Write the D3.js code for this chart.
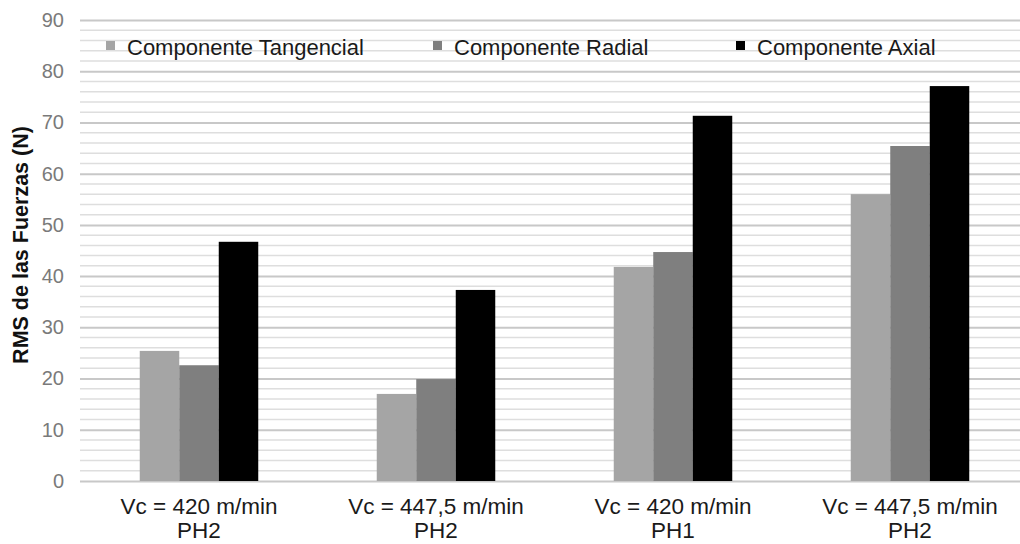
<!DOCTYPE html>
<html>
<head>
<meta charset="utf-8">
<script src="https://cdn.jsdelivr.net/npm/d3@7"></script>
<style>
  html, body { margin: 0; padding: 0; background: #fff; }
  svg { display: block; font-family: "Liberation Sans", Arial, sans-serif; }
</style>
</head>
<body>
<svg id="chart" width="1020" height="544"></svg>
<script>
const categories = [
  ["Vc = 420 m/min", "PH2"],
  ["Vc = 447,5 m/min", "PH2"],
  ["Vc = 420 m/min", "PH1"],
  ["Vc = 447,5 m/min", "PH2"]
];
const seriesNames = ["Componente Tangencial", "Componente Radial", "Componente Axial"];
const tangencial = [25.4, 17.0, 41.8, 56.0];
const radial = [22.6, 19.9, 44.7, 65.4];
const axial = [46.7, 37.3, 71.3, 77.1];
const yTicks = [0, 10, 20, 30, 40, 50, 60, 70, 80, 90];
const yMinorTicks = d3.range(0, 91, 2);
const colors = ["#a5a5a5", "#7f7f7f", "#000000"];

const series = [tangencial, radial, axial];
const svg = d3.select("#chart");

const y = d3.scaleLinear().domain([0, 90]).range([481, 20]);
const x0 = d3.scaleBand().domain(d3.range(categories.length)).range([80.5, 1028.5]).padding(0);
const x1 = d3.scaleBand().domain(d3.range(series.length))
  .range([0, x0.bandwidth()]).paddingOuter(1.5).paddingInner(0);

// minor gridlines
svg.append("g").selectAll("line").data(yMinorTicks.filter(v => v % 10 !== 0)).join("line")
  .attr("x1", 80).attr("x2", 1030)
  .attr("y1", d => y(d)).attr("y2", d => y(d))
  .attr("stroke", "#dedede").attr("stroke-width", 1.5);

// major gridlines via axis
const yAxis = d3.axisLeft(y).tickValues(yTicks).tickSize(-950).tickPadding(16);
const gy = svg.append("g").attr("transform", "translate(80,0)").call(yAxis);
gy.select(".domain").remove();
gy.selectAll(".tick line").attr("stroke", "#c8c8c8").attr("stroke-width", 2);
gy.selectAll(".tick text").attr("fill", "#7a7a7a").attr("font-size", 20)
  .attr("font-family", "Liberation Sans, Arial, sans-serif");

// bars
const groups = svg.append("g").selectAll("g").data(categories).join("g")
  .attr("transform", (d, i) => `translate(${x0(i)},0)`);
groups.selectAll("rect").data((d, i) => series.map((s, j) => ({ j, v: s[i] }))).join("rect")
  .attr("x", d => x1(d.j))
  .attr("width", x1.bandwidth())
  .attr("y", d => y(d.v))
  .attr("height", d => y(0) - y(d.v))
  .attr("fill", d => colors[d.j]);

// category labels
const xl = svg.append("g");
categories.forEach((c, i) => {
  const t = xl.append("text")
    .attr("x", x0(i) + x0.bandwidth() / 2)
    .attr("text-anchor", "middle")
    .attr("font-size", 22.5).attr("fill", "#1a1a1a");
  t.append("tspan").attr("x", x0(i) + x0.bandwidth() / 2).attr("y", 514).text(c[0]);
  t.append("tspan").attr("x", x0(i) + x0.bandwidth() / 2).attr("y", 538).text(c[1]);
});

// y axis title
svg.append("text")
  .attr("transform", "translate(28,245) rotate(-90)")
  .attr("text-anchor", "middle")
  .attr("font-size", 21.5).attr("font-weight", "bold").attr("fill", "#111")
  .text("RMS de las Fuerzas (N)");

// legend
const legendX = [106, 433, 736];
const leg = svg.append("g").selectAll("g").data(seriesNames).join("g")
  .attr("transform", (d, i) => `translate(${legendX[i]},0)`);
leg.append("rect").attr("x", 0).attr("y", 41).attr("width", 9).attr("height", 9)
  .attr("fill", (d, i) => colors[i]);
leg.append("text").attr("x", 21).attr("y", 55).attr("font-size", 22)
  .attr("fill", "#1a1a1a").text(d => d);
</script>
</body>
</html>
